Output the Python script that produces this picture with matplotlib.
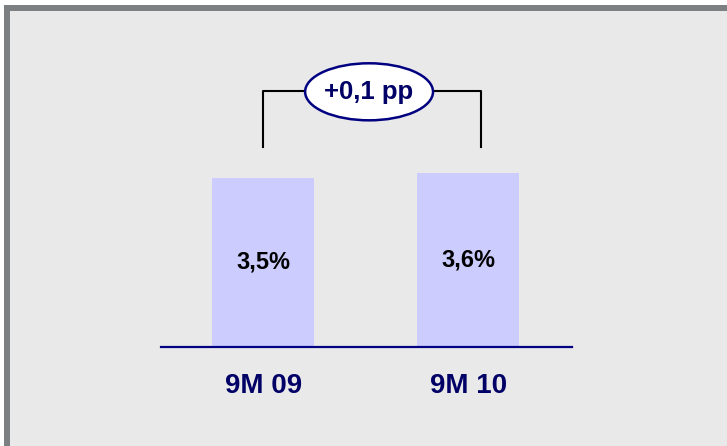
import matplotlib
matplotlib.use("Agg")
import matplotlib.pyplot as plt
from matplotlib.patches import Rectangle, Ellipse

# data
periods = ["9M 09", "9M 10"]
values = [3.5, 3.6]
value_labels = ["3,5%", "3,6%"]
delta_label = "+0,1 pp"

plt.rcParams['font.family'] = ['Liberation Sans', 'DejaVu Sans']

W, H = 727, 446
fig = plt.figure(figsize=(W / 100, H / 100), dpi=100)
fig.patch.set_facecolor('white')

# panel frame (grey border on top/left, light grey fill)
fig.patches.append(Rectangle((4 / W, 0), 1, (H - 5) / H, transform=fig.transFigure,
                             facecolor='#7d8083', edgecolor='none', zorder=-2))
fig.patches.append(Rectangle((10 / W, 0), 1, (H - 11) / H, transform=fig.transFigure,
                             facecolor='#e9e9e9', edgecolor='none', zorder=-1))

# axes: baseline at y=347 px, spans x 161..572 px
ax_left, ax_right = 161, 572
ax_bottom, ax_top = 347, 60
ax = fig.add_axes([ax_left / W, (H - ax_bottom) / H, (ax_right - ax_left) / W,
                   (ax_bottom - ax_top) / H])
ax.set_facecolor('none')

x = [0, 1]
ax.bar(x, values, width=0.5, color='#ccccff', zorder=2)
ax.set_xlim(-0.498, 1.507)
ax.set_ylim(0, 3.6 * (ax_bottom - ax_top) / 174)

for xi, v, lab in zip(x, values, value_labels):
    ax.text(xi, v / 2, lab, ha='center', va='center', fontsize=17,
            fontweight='bold', color='black', zorder=3)

for s in ['top', 'right', 'left']:
    ax.spines[s].set_visible(False)
ax.spines['bottom'].set_color('#000080')
ax.spines['bottom'].set_linewidth(1.6)
ax.set_yticks([])
ax.set_xticks(x)
ax.set_xticklabels(periods, fontsize=20, fontweight='bold', color='#000066')
ax.tick_params(axis='x', length=0, pad=19)

# bracket with the change label
b_low, b_high = 4.14, 5.30
br_left, br_right = 0.0, 1.063
e_cx, e_w, e_h = 0.517, 0.624, 1.18
ax.plot([br_left, br_left, e_cx - e_w / 2], [b_low, b_high, b_high], color='black',
        lw=1.5, clip_on=False, zorder=3)
ax.plot([e_cx + e_w / 2, br_right, br_right], [b_high, b_high, b_low], color='black',
        lw=1.5, clip_on=False, zorder=3)
ax.add_patch(Ellipse((e_cx, b_high - 0.02), e_w, e_h, facecolor='white',
                     edgecolor='#000080', lw=1.8, clip_on=False, zorder=4))
ax.text(e_cx, b_high - 0.02, delta_label, ha='center', va='center', fontsize=18.5,
        fontweight='bold', color='#000066', zorder=5)

fig.savefig('out.png', dpi=100, facecolor=fig.get_facecolor())
